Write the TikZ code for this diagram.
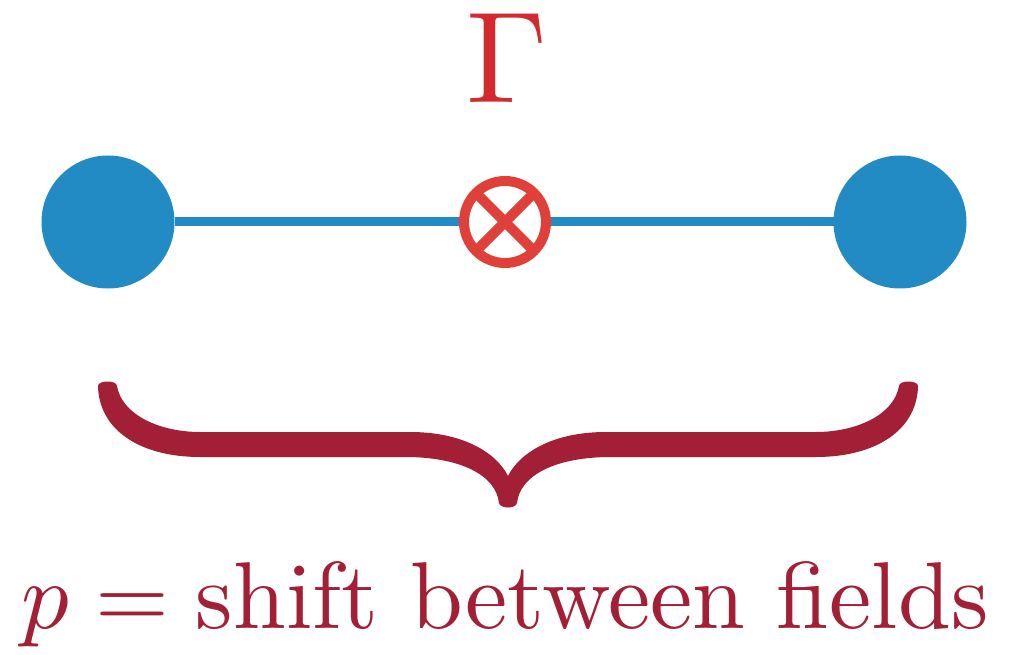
\documentclass[tikz,border=0pt]{standalone}
\definecolor{dotblue}{HTML}{238BC4}
\definecolor{gamred}{HTML}{D22A2E}
\definecolor{otred}{HTML}{E0403A}
\definecolor{bracecol}{HTML}{A31F35}
\tikzset{
  dot/.style={circle,fill=dotblue,minimum size=133pt,inner sep=0pt,outer sep=0pt},
  otimesnode/.style={circle,draw=otred,fill=white,line width=10pt,minimum size=82pt,inner sep=0pt,outer sep=0pt},
  link/.style={draw=dotblue,line width=9pt}
}
\begin{document}
\begin{tikzpicture}[x=1pt,y=-1pt]
\useasboundingbox (0,0) rectangle (1031,655);
\node[dot] (L) at (108,222) {};
\node[dot] (R) at (900,222) {};
\draw[link] (L) -- (R);
\node[otimesnode] (O) at (505,222) {};
\draw[otred,line width=10pt] (O.45) -- (O.225) (O.135) -- (O.315);
\node[text=gamred,anchor=base,inner sep=0pt] (G) at (507,103) {\scalebox{13}{$\Gamma$}};
\fill[bracecol] (499,503) .. controls (496,475) and (460,457) .. (405,457) -- (200,457)
  .. controls (140,457) and (99,430) .. (98,386)
  .. controls (98,380) and (117,380) .. (117,386)
  .. controls (122,415) and (160,432) .. (200,432) -- (410,432)
  .. controls (462,432) and (496,452) .. (508,476)
  .. controls (520,452) and (554,432) .. (606,432) -- (816,432)
  .. controls (856,432) and (894,415) .. (899,386)
  .. controls (899,380) and (918,380) .. (918,386)
  .. controls (917,430) and (876,457) .. (816,457) -- (611,457)
  .. controls (556,457) and (520,475) .. (517,503)
  .. controls (516,509) and (500,509) .. (499,503) -- cycle;
\node[text=bracecol,anchor=base,inner sep=0pt] (T) at (505,628) {\scalebox{9.5}{$p = \mbox{shift between fields}$}};
\end{tikzpicture}
\end{document}
